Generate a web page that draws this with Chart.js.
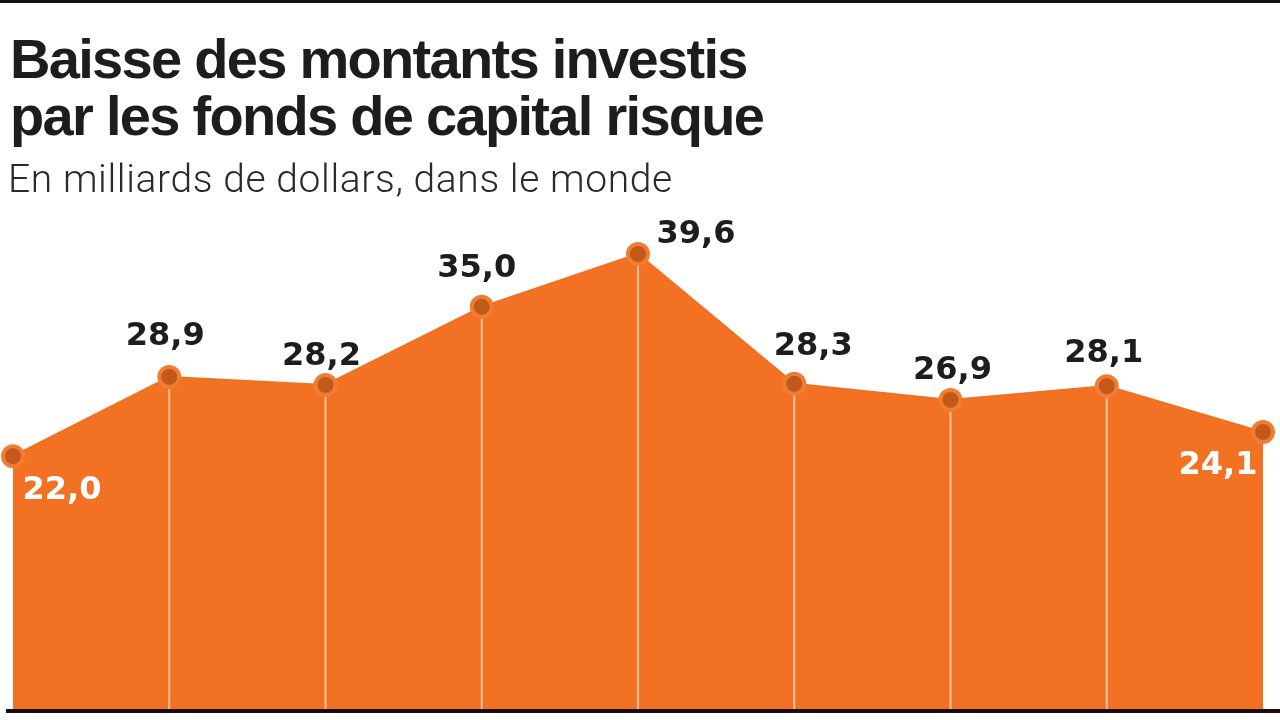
<!DOCTYPE html>
<html>
<head>
<meta charset="utf-8">
<script src="https://cdn.jsdelivr.net/npm/chart.js@4"></script>
<style>
    html, body { margin:0; padding:0; background:#fff; }
    #wrap { position:relative; width:1280px; height:720px; overflow:hidden; border-top:3px solid #111; box-sizing:border-box; }
    #title { position:absolute; left:10px; top:27px; font-family:"Liberation Sans", Arial, sans-serif; font-weight:bold; font-size:56px; line-height:57px; color:#1d1d1b; letter-spacing:-1.7px; }
    #subtitle { position:absolute; left:8px; top:157px; font-family:Roboto, "Liberation Sans", sans-serif; font-weight:300; font-size:39px; line-height:39px; color:#2a2a2a; letter-spacing:0.6px; }
    #chart { position:absolute; left:0; top:-3px; }
</style>
</head>
<body>
<div id="wrap">
    <canvas id="chart" width="1280" height="720"></canvas>
    <div id="title">Baisse des montants investis<br>par les fonds de capital risque</div>
    <div id="subtitle">En milliards de dollars, dans le monde</div>
</div>
<script>
const periods = ["P1","P2","P3","P4","P5","P6","P7","P8","P9"];
const amounts = [22.0, 28.9, 28.2, 35.0, 39.6, 28.3, 26.9, 28.1, 24.1];
const valueLabels = ["22,0","28,9","28,2","35,0","39,6","28,3","26,9","28,1","24,1"];

// label offset from point (dx, dy to baseline)
const labelOffsets = [[49,43],[-4,-32],[-4,-20],[-5,-30],[58,-11],[19,-29],[2,-21],[-3,-24],[-45,42]];

const dropLines = {
    id:"dropLines",
    beforeDatasetDraw(chart){
        const ctx = chart.ctx;
        const pts = chart.getDatasetMeta(0).data;
        const bottom = chart.chartArea.bottom;
        ctx.save();
        ctx.strokeStyle = "#fcc29b";
        ctx.lineWidth = 2;
        pts.forEach((p,i) => {
            if (i === 0 || i === pts.length-1) return;
            ctx.beginPath();
            ctx.moveTo(p.x, p.y);
            ctx.lineTo(p.x, bottom);
            ctx.stroke();
        });
        ctx.restore();
    },
    afterDatasetsDraw(chart){
        const ctx = chart.ctx;
        const pts = chart.getDatasetMeta(0).data;
        const bottom = chart.chartArea.bottom;
        ctx.save();
        // baseline rule
        ctx.fillStyle = "#1a0d08";
        ctx.fillRect(6, bottom, 1280, 4);
        ctx.font = "bold 32px 'DejaVu Sans'";
        ctx.textAlign = "center";
        ctx.textBaseline = "alphabetic";
        pts.forEach((p,i) => {
            const inside = i === 0 || i === pts.length-1;
            ctx.fillStyle = inside ? "#ffffff" : "#1d1d1b";
            ctx.fillText(valueLabels[i], p.x + labelOffsets[i][0], p.y + labelOffsets[i][1]);
        });
        ctx.restore();
    }
};

new Chart(document.getElementById("chart"),{
    type:"line",
    data:{
        labels:periods,
        datasets:[{
            data:amounts,
            fill:"start",
            backgroundColor:"#f37122",
            borderColor:"#f07024",
            borderWidth:2,
            tension:0,
            pointRadius:10,
            pointBorderWidth:4,
            pointBackgroundColor:"#c3581b",
            pointBorderColor:"#ef7d33",
            clip:false
        }]
    },
    options:{
        responsive:false,
        animation:false,
        events:[],
        layout:{ autoPadding:false, padding:{ left:13, right:17, top:134.5, bottom:11 } },
        plugins:{ legend:{display:false}, tooltip:{enabled:false} },
        scales:{
            x:{ display:false, offset:false },
            y:{ display:false, min:0, max:50 }
        }
    },
    plugins:[dropLines]
});
</script>
</body>
</html>
